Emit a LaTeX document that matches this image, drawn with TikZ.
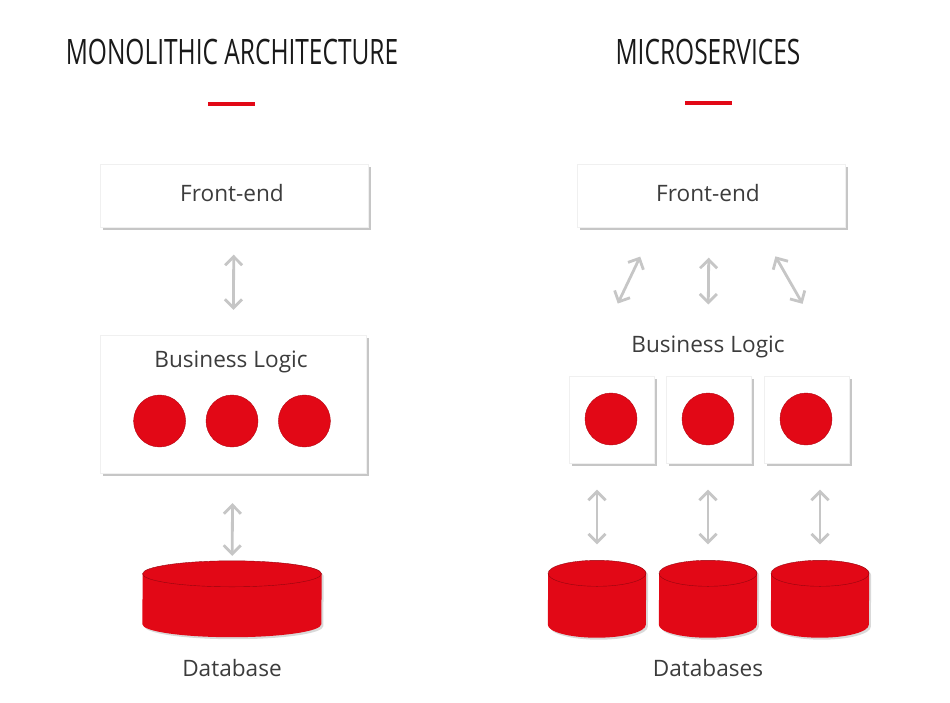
\documentclass[tikz,border=0pt]{standalone}
\usepackage{fontspec}
\setmainfont{Open Sans}
\newfontfamily\headfont[FakeStretch=0.7]{Open Sans}
\usetikzlibrary{arrows.meta,positioning,shadows}
\definecolor{msred}{RGB}{226,8,22}
\definecolor{txtgray}{RGB}{60,60,60}

% red drum drawn round an empty node: name, x radius, y radius
\newcommand{\drum}[3]{%
  \fill[msred,drop shadow={shadow xshift=2pt,shadow yshift=-2pt,opacity=.3}]
    ([yshift=#3]#1.south west) arc[start angle=180,end angle=360,x radius=#2,y radius=#3]
    -- ([yshift=-#3]#1.north east) arc[start angle=0,end angle=180,x radius=#2,y radius=#3]
    -- cycle;
  \draw[msred!65!black,line width=.4pt] ([yshift=-#3]#1.north) ellipse[x radius=#2,y radius=#3];
}

\begin{document}
\begin{tikzpicture}[x=1pt,y=-1pt,
    head/.style={font=\headfont\fontsize{35}{40}\selectfont,text=black!90},
    bar/.style={draw=msred,line width=4pt},
    panel/.style={fill=white,draw=gray!12,
        drop shadow={shadow xshift=2.5pt,shadow yshift=-2.5pt,opacity=.45}},
    caption/.style={font=\fontsize{22.6}{27}\selectfont,text=txtgray},
    ball/.style={circle,fill=msred,draw=msred!80!black,
        minimum size=52pt,inner sep=0pt},
    drumbox/.style={rectangle,inner sep=0pt},
    link/.style={{Straight Barb[length=3mm,width=6mm]}-{Straight Barb[length=3mm,width=6mm]},
        draw=gray!45,line width=2.8pt}
]
\useasboundingbox (0,0) rectangle (950,702);

% monolithic side
\node[head] (monoT) at (232,52) {MONOLITHIC ARCHITECTURE};
\draw[bar] (208,104) -- (255,104);
\node[panel,minimum width=268pt,minimum height=63pt] (feL) at (234,196) {};
\node[caption] at (232,193) {Front-end};
\node[panel,minimum width=266pt,minimum height=138pt] (blL) at (233,404) {};
\node[caption] (bizL) at (231,362) {Business Logic};
\node[ball] (c2) at (232,421) {};
\node[ball,left=20pt of c2] (c1) {};
\node[ball,right=20pt of c2] (c3) {};
\node[drumbox,minimum width=179pt,minimum height=76pt] (dbL) at (232,599) {};
\drum{dbL}{89.5pt}{13pt}
\node[caption] (dbTxtL) at (232,668) {Database};
\draw[link,shorten <=27pt,shorten >=25pt] (feL) -- (blL);
\draw[link,shorten <=30pt,shorten >=5pt] (blL) -- (dbL);

% microservices side
\node[head] (microT) at (708,52) {MICROSERVICES};
\draw[bar] (685,103) -- (732,103);
\node[panel,minimum width=268pt,minimum height=63pt] (feR) at (711,196) {};
\node[caption] at (708,193) {Front-end};
\node[caption] (bizR) at (708,347) {Business Logic};
\foreach \i/\x in {1/612,2/709,3/807}{
  \node[panel,minimum width=85pt,minimum height=87pt] (svc\i) at (\x,420) {};
  \node[ball] (s\i) at (\x-1,419) {};
}
\foreach \i/\x in {1/597,2/708,3/820}{
  \node[drumbox,minimum width=98pt,minimum height=77pt] (db\i) at (\x,599) {};
  \drum{db\i}{49pt}{13pt}
  \draw[link,shorten <=26pt,shorten >=16pt] (svc\i.south -| db\i) -- (db\i);
}
\node[caption] (dbTxtR) at (708,668) {Databases};
\draw[link,shorten <=32pt,shorten >=32pt] ([xshift=-57pt]feR.south) -- ([xshift=-104pt]bizR.north);
\draw[link,shorten <=30pt,shorten >=28pt] ([xshift=-2pt]feR.south) -- (bizR.north);
\draw[link,shorten <=33pt,shorten >=33pt] ([xshift=48pt]feR.south) -- ([xshift=111pt]bizR.north);
\end{tikzpicture}
\end{document}
